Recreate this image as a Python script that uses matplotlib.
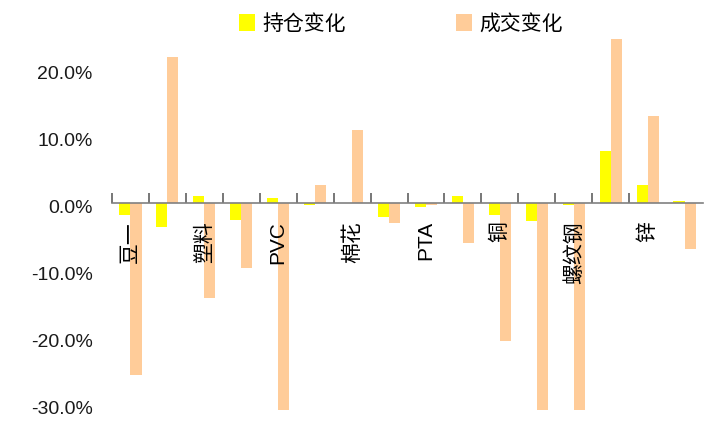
import matplotlib
matplotlib.use("Agg")
import matplotlib.pyplot as plt
import numpy as np
from matplotlib.transforms import ScaledTranslation

plt.rcParams['font.family'] = ['Liberation Sans', 'Noto Sans CJK SC', 'DejaVu Sans']

categories = ['豆一', '', '塑料', '', 'PVC', '', '棉花', '', 'PTA', '', '铜', '', '螺纹钢', '', '锌', '']
oi_change = [-1.75, -3.5, 1.1, -2.5, 0.8, -0.25, 0.0, -2.0, -0.5, 1.1, -1.75, -2.6, -0.2, 7.8, 2.7, 0.35]
vol_change = [-25.6, 21.9, -14.2, -9.6, -31.0, 2.7, 10.9, -2.9, -0.2, -5.9, -20.5, -31.0, -31.0, 24.5, 13.0, -6.8]
series_names = ['持仓变化', '成交变化']
ytick_values = [20, 10, 0, -10, -20, -30]

fig = plt.figure(figsize=(7.23, 4.28), dpi=100)
ax = fig.add_axes([112/723, 1-410/428, (703-112)/723, (410-39)/428])

x = np.arange(len(categories))
w = 0.30
b1 = ax.bar(x - w/2, oi_change, width=w, color='#FFFF00', label=series_names[0], zorder=1)
b2 = ax.bar(x + w/2, vol_change, width=w, color='#FFCC99', label=series_names[1], zorder=1)

ax.set_xlim(-0.5, len(categories) - 0.5)
ax.set_ylim(-30.85, 24.52)

for s in ['top', 'right', 'left']:
    ax.spines[s].set_visible(False)
ax.spines['bottom'].set_position(('data', 0))
ax.spines['bottom'].set_color('#808080')
ax.spines['bottom'].set_linewidth(1.2)
ax.spines['bottom'].set_zorder(3)

ax.set_xticks(x)
ax.set_xticklabels(categories, rotation=90, fontsize=15, color='black')
ax.set_xticks(np.arange(len(categories) - 1) - 0.5, minor=True)
ax.tick_params(axis='x', which='major', length=0, pad=13)
ax.tick_params(axis='x', which='minor', direction='in', length=7, width=1.2, color='#606060')

ax.set_yticks(ytick_values)
ax.set_yticklabels([f'{v:.1f}%' for v in ytick_values], fontsize=14, color='#1a1a1a')
ax.tick_params(axis='y', length=0, pad=14)
off = ScaledTranslation(0, -3.4/100, fig.dpi_scale_trans)
for lab in ax.get_yticklabels():
    lab.set_transform(lab.get_transform() + off)

leg = fig.legend(handles=[b1, b2], labels=series_names, loc='center',
                 bbox_to_anchor=(401/723, 1-24/428), ncol=2, frameon=False,
                 fontsize=15, handlelength=0.75, handleheight=0.9,
                 handletextpad=0.35, columnspacing=5.3, borderpad=0)

fig.savefig('out.png', dpi=100)
